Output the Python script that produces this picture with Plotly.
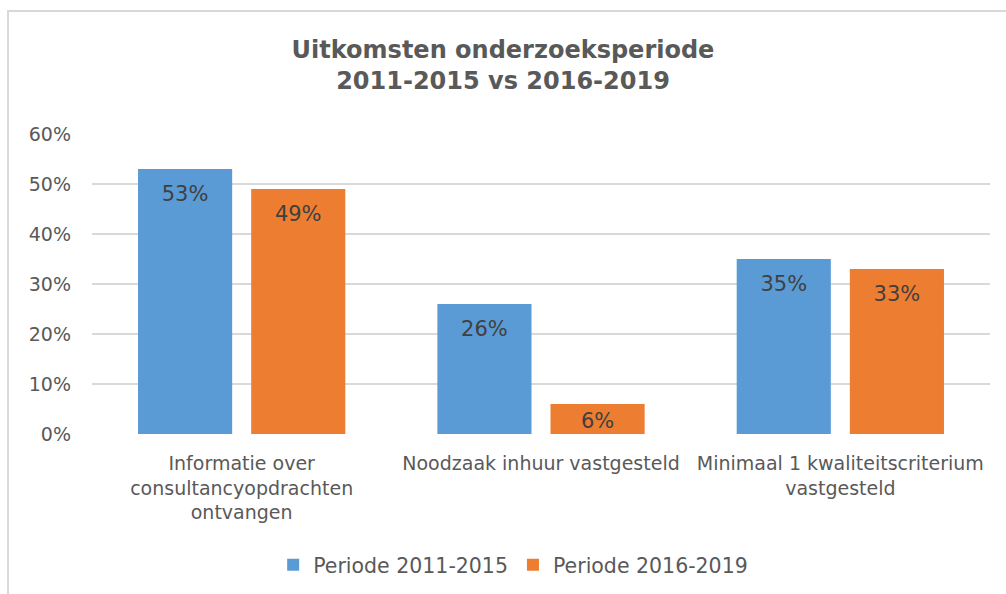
import plotly.graph_objects as go

categories = [
    "Informatie over<br>consultancyopdrachten<br>ontvangen",
    "Noodzaak inhuur vastgesteld",
    "Minimaal 1 kwaliteitscriterium<br>vastgesteld",
]
series_names = ["Periode 2011-2015", "Periode 2016-2019"]
values_2011_2015 = [0.53, 0.26, 0.35]
values_2016_2019 = [0.49, 0.06, 0.33]
colors = ["#5b9bd5", "#ed7d31"]

FONT = "DejaVu Sans"
GRAY = "#595959"
BARGAP = 0.244

fig = go.Figure()
for name, vals, col in zip(series_names, [values_2011_2015, values_2016_2019], colors):
    fig.add_trace(go.Bar(
        name=name, x=categories, y=vals,
        marker=dict(color=col, line=dict(width=0)),
        hoverinfo="x+y",
    ))
# data labels, placed inside the top of each bar (smaller offset for short bars)
for name, vals in zip(series_names, [values_2011_2015, values_2016_2019]):
    fig.add_trace(go.Scatter(
        x=categories, y=vals, mode="markers+text",
        text=[f"{v:.0%}" for v in vals],
        textposition="bottom center",
        textfont=dict(family=FONT, size=21, color="#404040"),
        marker=dict(size=[24 if v >= 0.1 else 12 for v in vals],
                    color="rgba(0,0,0,0)", line=dict(width=0)),
        showlegend=False, hoverinfo="skip", cliponaxis=False,
    ))

fig.update_layout(
    width=1006, height=594, autosize=False,
    margin=dict(l=92, r=16, t=134, b=160),
    paper_bgcolor="white", plot_bgcolor="white",
    font=dict(family=FONT, size=19, color=GRAY),
    title=dict(
        text="<b>Uitkomsten onderzoeksperiode<br>2011-2015 vs 2016-2019</b>",
        x=0.5, xanchor="center", y=0.903, yanchor="middle",
        font=dict(family=FONT, size=24, color=GRAY),
    ),
    barmode="group", bargap=BARGAP, bargroupgap=0.168,
    scattermode="group", scattergap=BARGAP,
    showlegend=True,
    legend=dict(orientation="h", x=0.469, xanchor="center",
                yref="container", y=0.049, yanchor="middle",
                itemwidth=30, font=dict(family=FONT, size=20.5, color=GRAY),
                traceorder="normal"),
    xaxis=dict(showgrid=False, showline=False, ticks="", ticklabelstandoff=16,
               automargin=False, tickfont=dict(size=19, color=GRAY)),
    yaxis=dict(range=[0, 0.6], dtick=0.1, tickformat=".0%", showgrid=True,
               gridcolor="#d9d9d9", gridwidth=1.5, zeroline=False, showline=False,
               automargin=False, ticks="", ticklabelstandoff=20,
               tickfont=dict(size=19, color=GRAY)),
    shapes=[dict(type="rect", xref="paper", yref="paper",
                 x0=-0.0935, x1=1.2, y0=-1.0, y1=1.41,
                 line=dict(color="#d9d9d9", width=2), fillcolor="rgba(0,0,0,0)", layer="below")],
)

fig.write_html("out.html", config={"displayModeBar": False},
               post_script="document.body.style.margin='0';")
